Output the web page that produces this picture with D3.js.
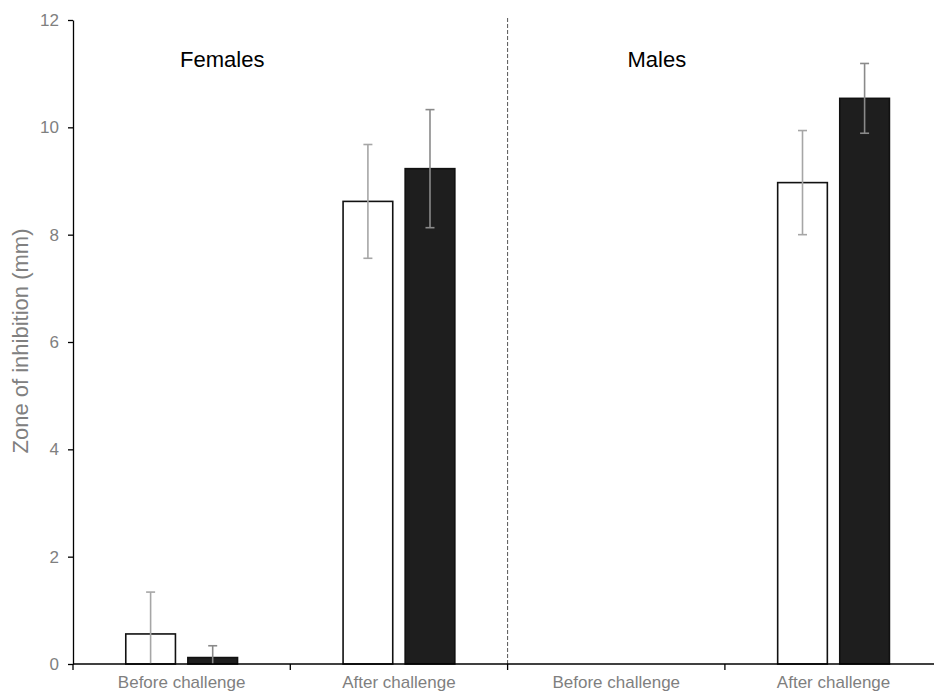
<!DOCTYPE html>
<html>
<head>
<meta charset="utf-8">
<script src="https://cdn.jsdelivr.net/npm/d3@7"></script>
<style>
  html, body { margin: 0; padding: 0; background: #fff; }
  svg { display: block; font-family: "Liberation Sans", Arial, sans-serif; }
</style>
</head>
<body>
<svg id="chart" width="934" height="699"></svg>
<script>
// ---- data ----
const categories = ["Before challenge", "After challenge", "Before challenge", "After challenge"];
const panels = ["Females", "Males"];
const openValues = [0.56, 8.62, null, 8.97];
const openErrors = [0.78, 1.06, null, 0.97];
const filledValues = [0.12, 9.23, null, 10.54];
const filledErrors = [0.22, 1.10, null, 0.65];
const yTicks = [0, 2, 4, 6, 8, 10, 12];

(function () {
// ---- layout ----
const svg = d3.select("#chart");
const mLeft = 73, mTop = 20, mBottom = 664;
const step = 217.3;
const idx = d3.range(categories.length);

const x0 = d3.scaleBand().domain(idx).range([mLeft, mLeft + step * categories.length]).padding(0);
const x1 = d3.scaleBand().domain(["open", "filled"]).range([0, x0.bandwidth()]).paddingInner(0.2).paddingOuter(0.85);
const y = d3.scaleLinear().domain([0, 12]).range([mBottom, mTop]);

// divider between panels
const divX = x0(2);
svg.append("line")
  .attr("x1", divX).attr("x2", divX)
  .attr("y1", 18).attr("y2", mBottom)
  .attr("stroke", "#555").attr("stroke-width", 1)
  .attr("stroke-dasharray", "4,2");

// bars
const series = [
  { key: "open", values: openValues, errors: openErrors, fill: "#ffffff", err: "#a6a6a6" },
  { key: "filled", values: filledValues, errors: filledErrors, fill: "#1e1e1e", err: "#8a8a8a" }
];

series.forEach(s => {
  const g = svg.append("g");
  idx.forEach(i => {
    const v = s.values[i];
    if (v == null) return;
    const bx = x0(i) + x1(s.key);
    const bw = x1.bandwidth();
    g.append("rect")
      .attr("x", bx).attr("y", y(v))
      .attr("width", bw).attr("height", y(0) - y(v))
      .attr("fill", s.fill).attr("stroke", "#111").attr("stroke-width", 1.6);
  });
});

series.forEach(s => {
  const g = svg.append("g");
  idx.forEach(i => {
    const v = s.values[i];
    if (v == null) return;
    const e = s.errors[i];
    const cx = x0(i) + x1(s.key) + x1.bandwidth() / 2;
    const hi = v + e, lo = Math.max(0, v - e);
    g.append("line").attr("x1", cx).attr("x2", cx).attr("y1", y(hi)).attr("y2", y(lo))
      .attr("stroke", s.err).attr("stroke-width", 1.6);
    g.append("line").attr("x1", cx - 4.5).attr("x2", cx + 4.5).attr("y1", y(hi)).attr("y2", y(hi))
      .attr("stroke", s.err).attr("stroke-width", 1.6);
    if (v - e > 0) {
      g.append("line").attr("x1", cx - 4.5).attr("x2", cx + 4.5).attr("y1", y(lo)).attr("y2", y(lo))
        .attr("stroke", s.err).attr("stroke-width", 1.6);
    }
  });
});

// y axis
const yAxis = svg.append("g")
  .attr("transform", `translate(${mLeft},0)`)
  .call(d3.axisLeft(y).tickValues(yTicks).tickSize(5).tickSizeOuter(0).tickPadding(9));
yAxis.select(".domain").attr("stroke", "#000").attr("stroke-width", 1.3);
yAxis.selectAll(".tick line").attr("stroke", "#000").attr("stroke-width", 1.3);
yAxis.selectAll(".tick text").attr("fill", "#7f7f7f").attr("font-size", 17)
  .attr("font-family", "Liberation Sans, Arial, sans-serif");

// x axis: labels at centers
const xAxis = svg.append("g")
  .attr("transform", `translate(0,${mBottom})`)
  .call(d3.axisBottom(x0).tickSize(0).tickPadding(12).tickFormat(i => categories[i]));
xAxis.select(".domain").remove();
xAxis.selectAll(".tick text").attr("fill", "#7f7f7f").attr("font-size", 17)
  .attr("font-family", "Liberation Sans, Arial, sans-serif");

// x axis line and boundary ticks
svg.append("line").attr("x1", mLeft).attr("x2", 934).attr("y1", mBottom).attr("y2", mBottom)
  .attr("stroke", "#000").attr("stroke-width", 1.5);
svg.append("g").selectAll("line").data(idx).join("line")
  .attr("x1", i => x0(i)).attr("x2", i => x0(i))
  .attr("y1", mBottom).attr("y2", mBottom + 6)
  .attr("stroke", "#000").attr("stroke-width", 1.3);

// panel titles
svg.append("g").selectAll("text").data(panels).join("text")
  .attr("x", (d, k) => x0(k * 2) + x0.bandwidth() * 0.687)
  .attr("y", 67)
  .attr("text-anchor", "middle")
  .attr("font-size", 22)
  .attr("fill", "#000")
  .text(d => d);

// y title
svg.append("text")
  .attr("transform", `translate(28,341) rotate(-90)`)
  .attr("text-anchor", "middle")
  .attr("font-size", 22)
  .attr("fill", "#808080")
  .text("Zone of inhibition (mm)");
})();
</script>
</body>
</html>
